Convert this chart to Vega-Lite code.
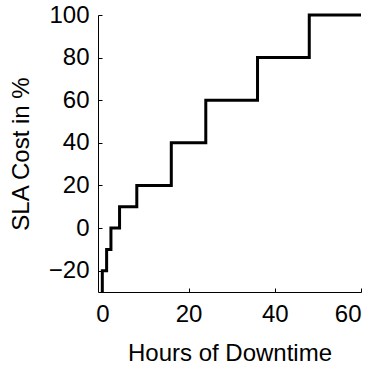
{
  "$schema": "https://vega.github.io/schema/vega-lite/v6.json",
  "width": 263,
  "height": 277,
  "autosize": {"type": "none"},
  "padding": {"left": 98, "top": 15, "right": 16, "bottom": 75},
  "background": "white",
  "config": {
    "view": {"stroke": null},
    "font": "Liberation Sans",
    "axis": {
      "grid": false,
      "domainColor": "black",
      "domainWidth": 1,
      "tickColor": "black",
      "tickWidth": 1,
      "tickSize": -4,
      "labelFont": "Liberation Sans",
      "labelFontSize": 24,
      "labelColor": "black",
      "titleFont": "Liberation Sans",
      "titleFontSize": 24,
      "titleFontWeight": "normal",
      "titleColor": "black"
    }
  },
  "data": {
    "values": [
      {"i": 0, "hours": 0, "cost": -30},
      {"i": 1, "hours": 0, "cost": -20},
      {"i": 2, "hours": 1, "cost": -10},
      {"i": 3, "hours": 2, "cost": 0},
      {"i": 4, "hours": 4, "cost": 10},
      {"i": 5, "hours": 8, "cost": 20},
      {"i": 6, "hours": 16, "cost": 40},
      {"i": 7, "hours": 24, "cost": 60},
      {"i": 8, "hours": 36, "cost": 80},
      {"i": 9, "hours": 48, "cost": 100},
      {"i": 10, "hours": 60, "cost": 100}
    ]
  },
  "mark": {"type": "line", "interpolate": "step-after", "color": "black", "strokeWidth": 3, "strokeCap": "butt", "strokeJoin": "miter"},
  "encoding": {
    "x": {
      "field": "hours", "type": "quantitative",
      "scale": {"domain": [-1, 60], "nice": false, "zero": false},
      "axis": {"title": "Hours of Downtime", "values": [0, 20, 40, 60], "labelPadding": 14, "titlePadding": 15}
    },
    "y": {
      "field": "cost", "type": "quantitative",
      "scale": {"domain": [-30, 100], "nice": false, "zero": false},
      "axis": {"title": "SLA Cost in %", "values": [-20, 0, 20, 40, 60, 80, 100], "labelPadding": 13, "titlePadding": 15}
    },
    "order": {"field": "i"}
  }
}
